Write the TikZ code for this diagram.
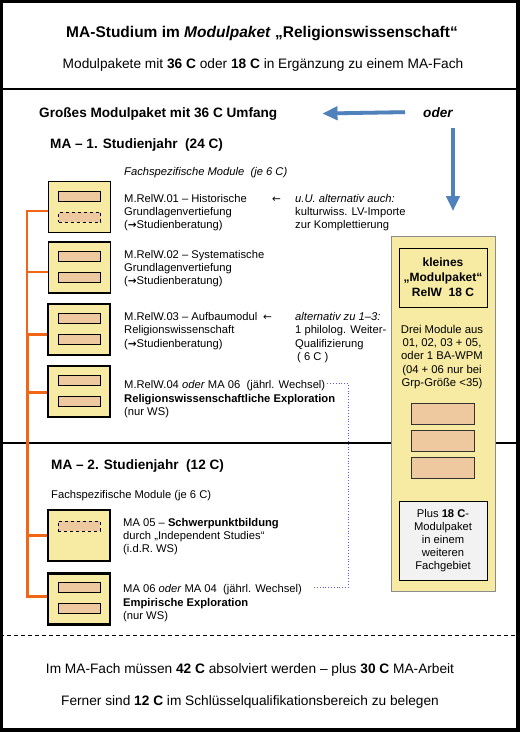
\documentclass[tikz,border=0pt]{standalone}
\usepackage{fontspec}
\setmainfont{Liberation Sans}
\newfontfamily\symf{DejaVu Sans}
\usetikzlibrary{arrows.meta,calc}
\definecolor{modyellow}{RGB}{247,234,163}
\definecolor{modtan}{RGB}{238,200,158}
\definecolor{modorange}{RGB}{242,101,20}
\definecolor{arrblue}{RGB}{79,129,189}
\definecolor{dotblue}{RGB}{90,90,230}
\definecolor{plusgray}{RGB}{242,242,242}
\definecolor{panelgray}{RGB}{140,140,140}
\newcommand{\fs}[2]{\fontsize{#1}{#2}\selectfont}
\newcommand{\ra}{{\symf\bfseries\fontsize{10.5}{12}\selectfont →}}
\newcommand{\la}{{\symf\fontsize{10.5}{12}\selectfont ←}}
\begin{document}
\begin{tikzpicture}[x=1pt,y=-1pt,
  txt/.style={anchor=base west,inner sep=0pt,font=\fs{11.2}{13.3}},
  ctxt/.style={anchor=base,inner sep=0pt,font=\fs{13.7}{16}},
  head/.style={anchor=base west,inner sep=0pt,font=\fs{13.6}{16}\bfseries},
  modbox/.style={draw=black,fill=modyellow,minimum width=62pt,minimum height=51pt,inner sep=0pt},
  thinbox/.style={modbox,line width=1.2pt},
  thickbox/.style={modbox,line width=2.6pt},
  inrect/.style={draw=black,fill=modtan,line width=0.9pt,minimum width=42pt,minimum height=10pt,inner sep=0pt},
  dinrect/.style={inrect,dashed},
  tanrect/.style={draw=black!80,fill=modtan,line width=0.9pt,minimum width=63pt,minimum height=21pt,inner sep=0pt},
  othin/.style={draw=modorange,line width=1.3pt},
  othick/.style={draw=modorange,line width=3pt},
  barrow/.style={draw=arrblue,line width=3.8pt,-{Triangle[length=15pt,width=13pt]}},
  bshadow/.style={draw=black!30,line width=3.8pt,-{Triangle[length=15pt,width=13pt]},opacity=0.5},
  dotline/.style={draw=dotblue,dotted,line width=0.8pt},
]
\useasboundingbox (0,0) rectangle (520,732);
\fill[white] (0,0) rectangle (520,732);

% frame and separators
\draw[line width=2.6pt] (0,89) -- (520,89);
\draw[line width=1.2pt] (0,443) -- (520,443);
\draw[line width=0.9pt,dash pattern=on 4pt off 3pt] (0,635) -- (520,635);
\draw[line width=3.5pt] (1.5,1.5) rectangle (518.2,730.2);

% header
\node[anchor=base,inner sep=0pt,font=\fs{15.5}{18}\bfseries] (title) at (262,37)
  {MA-Studium im \textit{Modulpaket} „Religionswissenschaft“};
\node[ctxt] (sub) at (263,68)
  {Modulpakete mit \textbf{36 C} oder \textbf{18 C} in Ergänzung zu einem MA-Fach};

\node[head] (gm) at (39,117) {Großes Modulpaket mit 36 C Umfang};
\node[head,font=\fs{13.6}{16}\bfseries\itshape] (oder) at (423,117) {oder};

% blue arrows
\coordinate (ha0) at ([xshift=-18pt]oder.west);
\coordinate (ha1) at ([xshift=45pt]gm.east);
\coordinate (va0) at (453,128);
\coordinate (va1) at (453,211);
\begin{scope}[xshift=1.5pt,yshift=-1.8pt]
\draw[bshadow] (ha0) -- (ha1);
\draw[bshadow] (va0) -- (va1);
\end{scope}
\draw[barrow] (ha0) -- (ha1);
\draw[barrow] (va0) -- (va1);

\node[head] (y1) at (50,148) {MA – 1. Studienjahr \ (24 C)};
\node[txt,font=\fs{11.2}{13.3}\itshape] (fs1) at (124,175) {Fachspezifische Module \ (je 6 C)};

% module boxes
\node[thinbox] (b1) at (79.5,207) {};
\node[thinbox] (b2) at (79.5,267.5) {};
\node[thickbox] (b3) at (79,329.5) {};
\node[thickbox] (b4) at (79,391.5) {};
\node[thickbox] (b5) at (79,535.5) {};
\node[thickbox] (b6) at (79,599) {};

\node[inrect]  (r1a) at ($(b1.north)+(0,15.5)$) {};
\node[dinrect] (r1b) at ($(b1.north)+(0,36.5)$) {};
\node[inrect]  (r2a) at ($(b2.north)+(0,15.5)$) {};
\node[inrect]  (r2b) at ($(b2.north)+(0,36.5)$) {};
\node[inrect]  (r3a) at ($(b3.north)+(0,15.5)$) {};
\node[inrect]  (r3b) at ($(b3.north)+(0,36.5)$) {};
\node[inrect]  (r4a) at ($(b4.north)+(0,15.5)$) {};
\node[inrect]  (r4b) at ($(b4.north)+(0,36.5)$) {};
\node[dinrect] (r5a) at ($(b5.north)+(0,17.5)$) {};
\node[inrect]  (r6a) at ($(b6.north)+(0,15.5)$) {};
\node[inrect]  (r6b) at ($(b6.north)+(0,36.5)$) {};

% orange connectors
\coordinate (ox) at (27,0);
\coordinate (c1) at ([yshift=-4pt]b1.west);
\coordinate (c2) at ([yshift=-4.5pt]b2.west);
\coordinate (c3) at ([yshift=-4.5pt]b3.west);
\coordinate (c4) at ([yshift=-0.5pt]b4.west);
\coordinate (c5) at (b5.west);
\coordinate (c6) at ([yshift=3pt]b6.west);
\draw[othin] (c1) -- (c1 -| ox) -- (c3 -| ox);
\draw[othin] (c2) -- (c2 -| ox);
\draw[othick] (c3) -- (c3 -| ox) -- (c6 -| ox) -- (c6);
\draw[othick] (c4) -- (c4 -| ox);
\draw[othick] (c5) -- (c5 -| ox);

% texts box 1
\node[txt] (t1a) at (124,202) {M.RelW.01 – Historische};
\node[txt] (t1b) at (124,215) {Grundlagenvertiefung};
\node[txt] (t1c) at (124,228) {(\ra Studienberatung)};
\node[txt] (a1) at (272,202) {\la};
\node[txt] (u1a) at (295,202) {\textit{u.U. alternativ auch:}};
\node[txt] (u1b) at (295,215) {kulturwiss. LV-Importe};
\node[txt] (u1c) at (295,228) {zur Komplettierung};
% box 2
\node[txt] (t2a) at (124,258) {M.RelW.02 – Systematische};
\node[txt] (t2b) at (124,271) {Grundlagenvertiefung};
\node[txt] (t2c) at (124,284) {(\ra Studienberatung)};
% box 3
\node[txt] (t3a) at (124,320) {M.RelW.03 – Aufbaumodul};
\node[txt] (a3) at (263,320) {\la};
\node[txt] (t3b) at (124,333.5) {Religionswissenschaft};
\node[txt] (t3c) at (124,347) {(\ra Studienberatung)};
\node[txt] (u3a) at (295,320) {\textit{alternativ zu 1–3:}};
\node[txt] (u3b) at (295,333.5) {1 philolog. Weiter-};
\node[txt] (u3c) at (295,347) {Qualifizierung};
\node[txt] (u3d) at (297,360.5) {( 6 C )};
% box 4
\node[txt] (t4a) at (124,388) {M.RelW.04 \textit{oder} MA 06 \ (jährl. Wechsel)};
\node[txt] (t4b) at (124,402) {\textbf{Religionswissenschaftliche Exploration}};
\node[txt] (t4c) at (124,415) {(nur WS)};

% second year
\node[head] (y2) at (51,469) {MA – 2. Studienjahr \ (12 C)};
\node[txt] (fs2) at (51,498) {Fachspezifische Module (je 6 C)};
\node[txt] (t5a) at (123,526) {MA 05 – \textbf{Schwerpunktbildung}};
\node[txt] (t5b) at (123,539) {durch „Independent Studies“};
\node[txt] (t5c) at (123,552) {(i.d.R. WS)};
\node[txt] (t6a) at (123,592) {MA 06 \textit{oder} MA 04 \ (jährl. Wechsel)};
\node[txt] (t6b) at (123,606) {\textbf{Empirische Exploration}};
\node[txt] (t6c) at (123,619) {(nur WS)};

% dotted link
\coordinate (dx) at (348,0);
\draw[dotline] ([xshift=2pt,yshift=2pt]t4a.east) -- ([yshift=2pt]t4a.east -| dx) -- ([yshift=2pt]t6a.east -| dx) -- ([xshift=12pt,yshift=2pt]t6a.east);

% right panel
\node[draw=panelgray,fill=modyellow,line width=0.9pt,minimum width=104pt,minimum height=355pt,inner sep=0pt] (rp) at (443,413.5) {};
\node[draw=black,line width=1pt,minimum width=88pt,minimum height=59pt,inner sep=0pt,align=center,font=\fs{12}{15}\bfseries] (kp) at (443,277.5)
  {kleines\\„Modulpaket“\\RelW \ 18 C};
\node[align=center,inner sep=0pt,font=\fs{11.3}{13.3}] (dm) at (442,357)
  {Drei Module aus\\01, 02, 03 + 05,\\oder 1 BA-WPM\\ (04 + 06 nur bei\\Grp-Größe <35)};
\node[tanrect] (p1) at (442.5,413.5) {};
\node[tanrect] (p2) at (442.5,440.5) {};
\node[tanrect] (p3) at (442.5,467.5) {};
\node[draw=black,fill=plusgray,line width=1pt,minimum width=88pt,minimum height=79pt,inner sep=0pt,align=center,font=\fs{11.2}{13.2}] (pl) at (443,540.5)
  {Plus \textbf{18 C}-\\Modulpaket\\in einem\\weiteren\\Fachgebiet};

% bottom
\node[ctxt] (f1) at (250,673) {Im MA-Fach müssen \textbf{42 C} absolviert werden – plus \textbf{30 C} MA-Arbeit};
\node[ctxt] (f2) at (250,705) {Ferner sind \textbf{12 C} im Schlüsselqualifikationsbereich zu belegen};
\end{tikzpicture}
\end{document}
